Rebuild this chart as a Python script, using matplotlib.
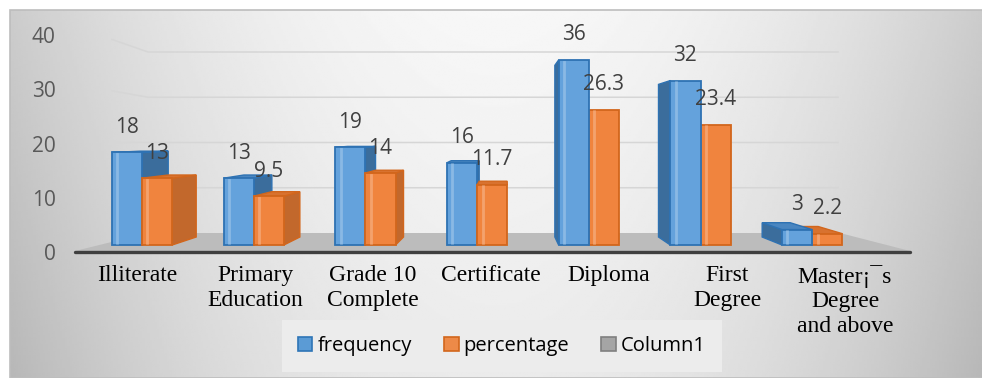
import numpy as np
import matplotlib.pyplot as plt
from matplotlib.patches import Polygon, Patch, Rectangle

categories = ["Illiterate", "Primary\nEducation", "Grade 10\nComplete", "Certificate",
              "Diploma", "First\nDegree", "Master\u00a1\u00afs\nDegree\nand above"]
frequency = [18, 13, 19, 16, 36, 32, 3]
percentage = [13, 9.5, 14, 11.7, 26.3, 23.4, 2.2]
series_names = ["frequency", "percentage", "Column1"]
yticks = [0, 10, 20, 30, 40]

plt.rcParams['font.family'] = ['Open Sans', 'DejaVu Sans']

W, H = 982, 378
# pixel layout of the bar plane: category 0 at x=142 px, value 0 at y=245 px
PX_X0, PX_DX = 142.0, 111.7
PX_Y0, PX_DY = 245.0, 5.139

def px2x(p):
    return (p - PX_X0) / PX_DX

def px2y(p):
    return (PX_Y0 - p) / PX_DY

fig = plt.figure(figsize=(W / 100, H / 100), dpi=100)
ax = fig.add_axes([0, 0, 1, 1])
ax.set_axis_off()

# background: soft gray gradient, lighter in the middle
gx = np.linspace(-1, 1, 400)
gy = np.linspace(0, 1, 200)
GX, GY = np.meshgrid(gx, gy)
grad = 0.97 - 0.17 * GX**2 - 0.05 * GY - 0.03 * (GX**2) * GY
ax.imshow(grad, extent=[px2x(10), px2x(W), px2y(H), px2y(10)], aspect='auto',
          cmap='gray', vmin=0, vmax=1, zorder=0, interpolation='bilinear')
ax.add_patch(Rectangle((px2x(10), px2y(H)), px2x(W + 5) - px2x(10), px2y(10) - px2y(H),
                       fill=False, ec='#bdbdbd', lw=1.2, zorder=0.5))

# back wall grid lines (own vertical scale) with the slant on the side wall
def wall_y(v):
    return px2y(233 - 4.525 * v)

for v in yticks[1:]:
    ax.plot([px2x(112), px2x(148), px2x(838)], [v, wall_y(v), wall_y(v)],
            color='#d6d6d6', lw=1.1, zorder=1)

# floor
floor = [(px2x(75), px2y(251)), (px2x(910), px2y(251)),
         (px2x(840), px2y(233)), (px2x(148), px2y(233))]
ax.add_patch(Polygon(floor, closed=True, fc='#bcbcbc', ec='none', zorder=1))
ax.plot([px2x(75), px2x(910)], [px2y(252), px2y(252)], color='#3f3f3f', lw=2.4,
        solid_capstyle='round', zorder=1.5)

# simple perspective for the bar boxes
VP = np.array([px2x(506), px2y(134)])
K = 0.928

def back(x, y):
    return VP[0] + K * (x - VP[0]), VP[1] + K * (y - VP[1])

def box(x0, w, h, front, side, top, edge):
    x1 = x0 + w
    xs = x1 if x1 <= VP[0] else (x0 if x0 >= VP[0] else None)
    if xs is not None:
        ax.add_patch(Polygon([(xs, 0), (xs, h), back(xs, h), back(xs, 0)],
                             closed=True, fc=side, ec=edge, lw=1, zorder=2))
    if h < VP[1]:
        ax.add_patch(Polygon([(x0, h), (x1, h), back(x1, h), back(x0, h)],
                             closed=True, fc=top, ec=edge, lw=1, zorder=2))
    ax.bar(x0, h, w, align='edge', color=front, edgecolor=edge, lw=1.3, zorder=2)
    # glassy inner stripe
    ax.plot([x0 + w * 0.18, x0 + w * 0.18], [0.3, h - 0.3], color='white', alpha=0.25,
            lw=2, zorder=2)

bw = 0.27
blue = dict(front='#64a2dc', side='#3b6d9c', top='#4a86c0', edge='#2e72b3')
orange = dict(front='#f0843e', side='#c2682c', top='#d8722f', edge='#d2661c')

for i, (f, p) in enumerate(zip(frequency, percentage)):
    parts = [(i - bw, f, blue), (i, p, orange)]
    if i > VP[0]:
        parts = parts[::-1]
    for x0, h, st in parts:
        box(x0, bw, h, **st)
    for x0, h in [(i - bw, f), (i, p)]:
        ax.annotate(f"{h:g}", (x0 + bw / 2, h), xytext=(0, 18), textcoords='offset points',
                    ha='center', va='center', fontsize=15, color='#404040', zorder=3)

ax.set_xlim(px2x(0), px2x(W))
ax.set_ylim(px2y(H), px2y(0))

# value axis labels sit on the front edge, slightly different scale
def to_tick(y):
    return (7 + PX_DY * y) / 5.425

def from_tick(t):
    return (5.425 * t - 7) / PX_DY

sy = ax.secondary_yaxis(57 / W, functions=(to_tick, from_tick))
sy.set_yticks(yticks)
sy.tick_params(length=0, pad=1, labelsize=15, labelcolor='#595959')
for s in sy.spines.values():
    s.set_visible(False)

# category labels along the floor front edge
def to_slot(x):
    return (5 + PX_DX * x) / 118

def from_slot(s):
    return (118 * s - 5) / PX_DX

sx = ax.secondary_xaxis((H - 265) / H, functions=(to_slot, from_slot))
sx.set_xticks(range(len(categories)), labels=categories)
sx.tick_params(length=0, pad=0)
for s in sx.spines.values():
    s.set_visible(False)
for t in sx.get_xticklabels():
    t.set_fontfamily('Liberation Serif')
    t.set_fontsize(17)
    t.set_linespacing(1.22)
    t.set_color('black')

handles = [Patch(fc='#5b9bd5', ec='#2e75b6', lw=1.2, label=series_names[0]),
           Patch(fc='#ed8a48', ec='#d2661c', lw=1.2, label=series_names[1]),
           Patch(fc='#a5a5a5', ec='#7f7f7f', lw=1.2, label=series_names[2])]
leg = ax.legend(handles=handles, loc='center', bbox_to_anchor=(502 / W, 1 - 346 / H),
                bbox_transform=fig.transFigure, ncol=3, frameon=True, fancybox=False,
                prop={'family': 'Open Sans', 'size': 14.5}, handlelength=0.72,
                handleheight=0.72, handletextpad=0.25, columnspacing=1.6, borderpad=0.8,
                borderaxespad=0, framealpha=1)
leg.get_frame().set_facecolor('#ececec')
leg.get_frame().set_edgecolor('none')
leg.set_zorder(4)

fig.savefig('out.png', dpi=100)
